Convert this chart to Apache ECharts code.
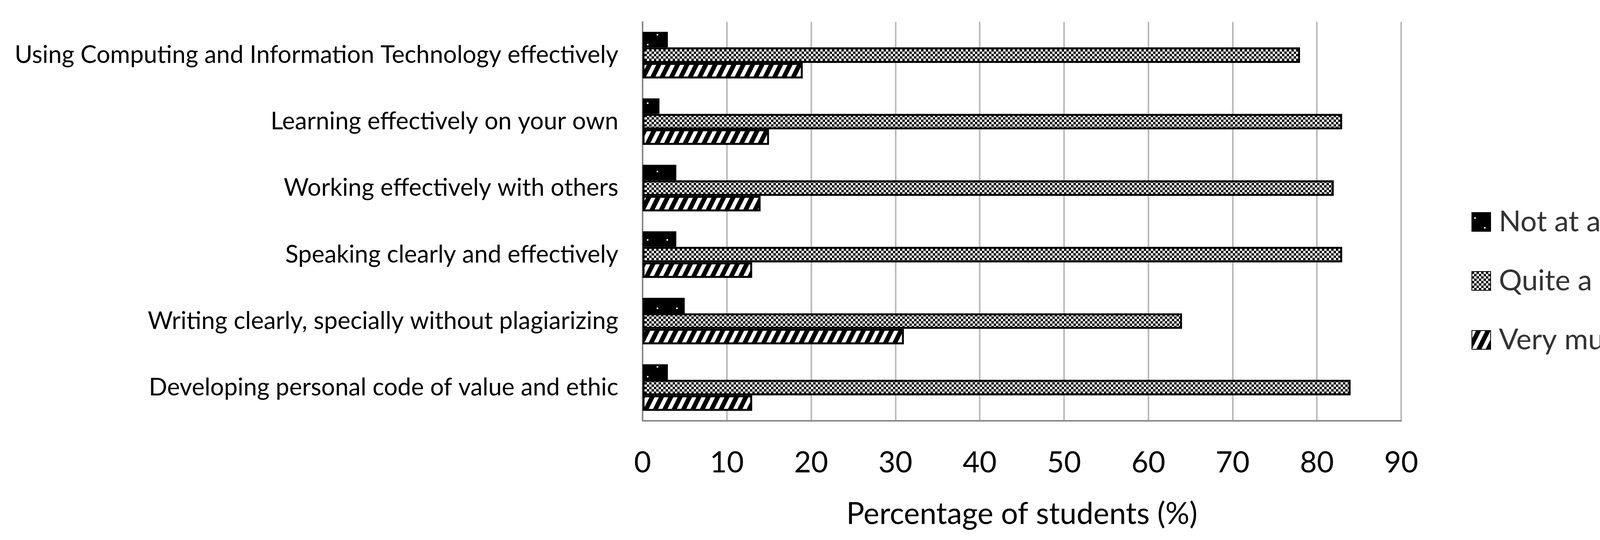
<!DOCTYPE html>
<html><head><meta charset="utf-8">
<script src="https://cdn.jsdelivr.net/npm/echarts@6/dist/echarts.min.js"></script>
<style>html,body{margin:0;padding:0;background:#fff}#c{width:4241px;height:1382px}</style>
</head><body><div id="c"></div>
<script>
const categories = [
  'Using Computing and Information Technology effectively',
  'Learning effectively on your own',
  'Working effectively with others',
  'Speaking clearly and effectively',
  'Writing clearly, specially without plagiarizing',
  'Developing personal code of value and ethic'
];
const seriesNames = ['Not at all', 'Quite a lot', 'Very much'];
const notAtAll = [3, 2, 4, 4, 5, 3];
const quiteALot = [78, 83, 82, 83, 64, 84];
const veryMuch = [19, 15, 14, 13, 31, 13];
const xMin = 0, xMax = 90, xStep = 10;

function mk(w, h, draw) {
  const c = document.createElement('canvas');
  c.width = w; c.height = h;
  const g = c.getContext('2d');
  g.imageSmoothingEnabled = false;
  draw(g, w, h);
  return c;
}
const dotTile = mk(50, 50, (g) => {
  g.fillStyle = '#000'; g.fillRect(0, 0, 50, 50);
  g.fillStyle = '#fff';
  g.fillRect(6, 12, 4, 4);
  g.fillRect(31, 37, 4, 4);
});
const checkTile = mk(12, 12, (g) => {
  g.fillStyle = '#fff'; g.fillRect(0, 0, 12, 12);
  g.fillStyle = '#000';
  g.fillRect(0, 0, 6, 6); g.fillRect(6, 6, 6, 6);
});
const diagTile = mk(24, 48, (g) => {
  g.fillStyle = '#000'; g.fillRect(0, 0, 24, 48);
  g.fillStyle = '#fff';
  for (const s of [-24, 0, 24]) {
    g.beginPath();
    g.moveTo(0 + s, 48); g.lineTo(11 + s, 48); g.lineTo(35 + s, 0); g.lineTo(24 + s, 0);
    g.closePath(); g.fill();
  }
});
const pat = (img) => ({ image: img, repetition: 'repeat' });
const fills = [pat(dotTile), pat(checkTile), pat(diagTile)];
const values = [notAtAll, quiteALot, veryMuch];

const chart = echarts.init(document.getElementById('c'), null, { renderer: 'canvas' });
const FONT = 'Lato';
chart.setOption({
  animation: false,
  backgroundColor: '#fff',
  grid: { left: 1645, right: 654, top: 56, bottom: 305, containLabel: false },
  legend: {
    orient: 'vertical',
    left: 3762,
    top: 526,
    itemWidth: 48,
    itemHeight: 48,
    itemGap: 77,
    icon: 'rect',
    textStyle: { fontFamily: FONT, fontSize: 74, color: '#333', padding: [0, 0, 0, 16], lineHeight: 74 },
    data: seriesNames
  },
  xAxis: {
    type: 'value',
    min: xMin, max: xMax, interval: xStep,
    name: 'Percentage of students (%)',
    nameLocation: 'middle',
    nameGap: 201,
    nameTextStyle: { fontFamily: FONT, fontSize: 77, color: '#000' },
    axisLine: { show: true, lineStyle: { color: '#898989', width: 4 } },
    axisTick: { show: false },
    axisLabel: { fontFamily: FONT, fontSize: 75, color: '#000', margin: 70 },
    splitLine: { show: true, lineStyle: { color: '#b9b9b9', width: 4 } }
  },
  yAxis: {
    type: 'category',
    inverse: true,
    data: categories,
    axisLine: { show: true, lineStyle: { color: '#898989', width: 4 } },
    axisTick: { show: false },
    axisLabel: { fontFamily: FONT, fontSize: 62, color: '#000', margin: 62 },
    splitLine: { show: false }
  },
  series: seriesNames.map((n, i) => ({
    name: n,
    type: 'bar',
    data: values[i],
    barGap: '0%',
    barCategoryGap: '30%',
    itemStyle: { color: fills[i], borderColor: '#000', borderWidth: 5 }
  }))
});
</script></body></html>
